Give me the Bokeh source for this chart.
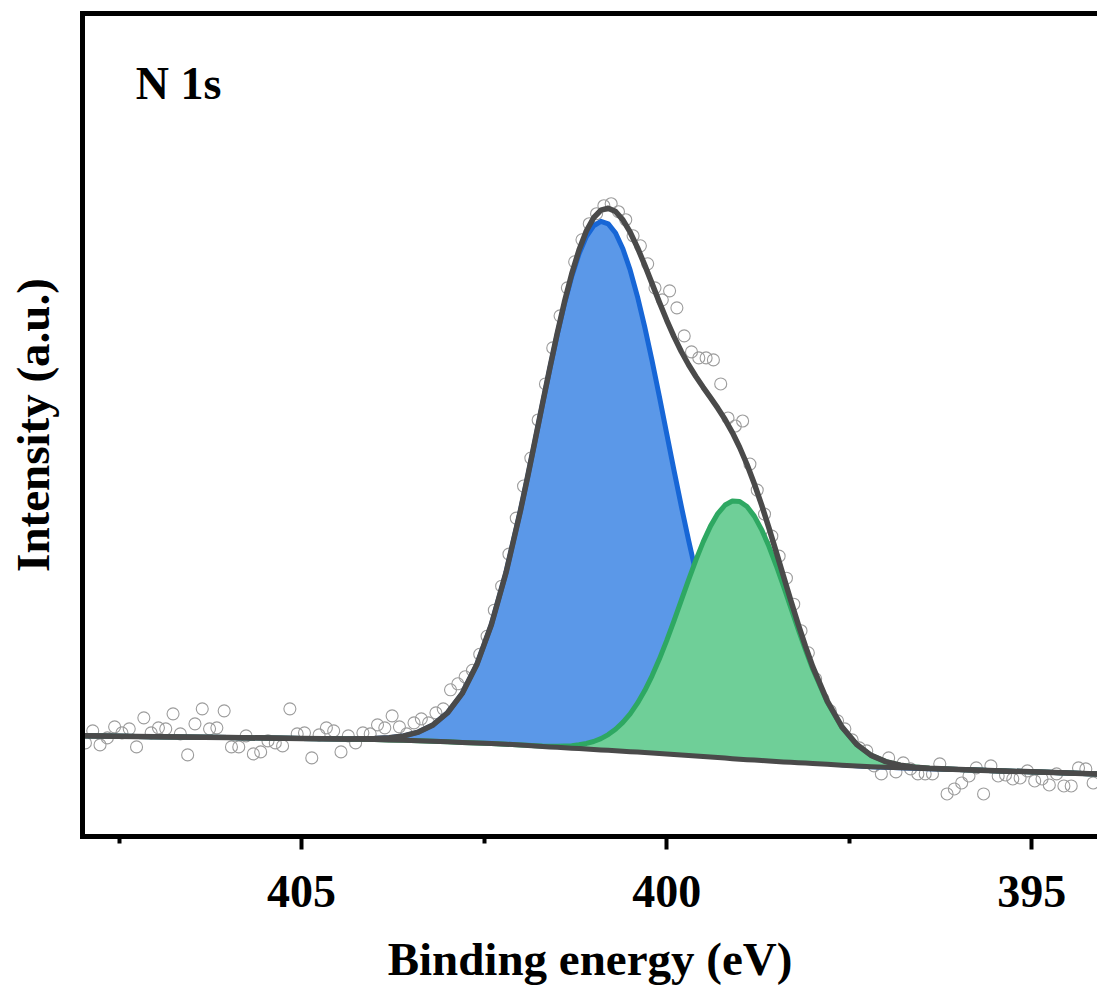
from bokeh.plotting import figure
from bokeh.models import Range1d, FixedTicker, LinearAxis, Label
from bokeh.embed import file_html
from bokeh.resources import INLINE
import numpy as np

# ---- measured points (binding energy in eV, intensity in a.u.) ----
scan_energy = [
    407.96, 407.86, 407.76, 407.66, 407.56, 407.46, 407.36, 407.26, 407.16, 407.06,
    406.96, 406.86, 406.76, 406.66, 406.56, 406.46, 406.36, 406.26, 406.16, 406.06,
    405.96, 405.86, 405.76, 405.66, 405.56, 405.46, 405.36, 405.26, 405.16, 405.06,
    404.96, 404.86, 404.76, 404.66, 404.56, 404.46, 404.36, 404.26, 404.16, 404.06,
    403.96, 403.86, 403.76, 403.66, 403.56, 403.46, 403.36, 403.26, 403.16, 403.06,
    402.96, 402.86, 402.76, 402.66, 402.56, 402.46, 402.36, 402.26, 402.16, 402.06,
    401.96, 401.86, 401.76, 401.66, 401.56, 401.46, 401.36, 401.26, 401.16, 401.06,
    400.96, 400.86, 400.76, 400.66, 400.56, 400.46, 400.36, 400.26, 400.16, 400.06,
    399.96, 399.86, 399.76, 399.66, 399.56, 399.46, 399.36, 399.26, 399.16, 399.06,
    398.96, 398.86, 398.76, 398.66, 398.56, 398.46, 398.36, 398.26, 398.16, 398.06,
    397.96, 397.86, 397.76, 397.66, 397.56, 397.46, 397.36, 397.26, 397.16, 397.06,
    396.96, 396.86, 396.76, 396.66, 396.56, 396.46, 396.36, 396.26, 396.16, 396.06,
    395.96, 395.86, 395.76, 395.66, 395.56, 395.46, 395.36, 395.26, 395.16, 395.06,
    394.96, 394.86, 394.76, 394.66, 394.56, 394.46, 394.36, 394.26, 394.16,
]
scan_counts = [
    93.5, 105.5, 91.5, 98.5, 109.5, 103.5, 107.5, 89.5, 118.5, 103.5,
    108.5, 107.5, 122.5, 102.5, 81.5, 112.5, 127.5, 107.5, 108.5, 125.5,
    89.5, 89.5, 100.5, 82.5, 84.5, 95.5, 93.5, 90.5, 127.5, 102.5,
    103.5, 78.5, 101.5, 108.5, 105.5, 84.5, 100.5, 93.5, 103.5, 102.5,
    111.5, 108.5, 120.5, 109.5, 102.5, 113.5, 117.5, 113.5, 123.5, 127.5,
    146.5, 152.5, 159.5, 166, 182, 200, 226, 250, 282, 318,
    350, 378, 416, 452, 488, 520, 548, 574, 596, 612,
    622, 630, 632, 624, 616, 600, 590, 572, 548, 536,
    545, 528, 500, 484, 478, 478, 476, 452, 418, 410,
    415, 372, 346, 322, 300, 280, 258, 232, 205.5, 183.5,
    157.5, 137.5, 125.5, 115.5, 107.5, 96.5, 88.5, 85.5, 70.5, 62.5,
    78.5, 64.5, 73.5, 67.5, 62.5, 62.5, 62.5, 72.5, 42.5, 47.5,
    53.5, 60.5, 68.5, 42.5, 70.5, 60.5, 61.5, 57.5, 58.5, 65.5,
    55.5, 57.5, 51.5, 62.5, 50.5, 50.5, 68.5, 67.5, 53.5,
]

# ---- fitted curves ----
fit_energy = [
    408.1, 407.0, 406.0, 405.0, 404.4, 404.0, 403.8, 403.6, 403.4, 403.2,
    403.0, 402.8, 402.6, 402.4, 402.2,
    402.0, 401.9, 401.8, 401.7, 401.6, 401.5, 401.4, 401.3, 401.2, 401.1,
    401.0, 400.9, 400.8, 400.7, 400.6, 400.5, 400.4, 400.3, 400.2, 400.1,
    400.0, 399.9, 399.8, 399.7, 399.6, 399.5, 399.4, 399.3, 399.2, 399.1,
    399.0, 398.9, 398.8, 398.7, 398.6, 398.5, 398.4, 398.3, 398.2, 398.1,
    398.0,
    397.8, 397.6, 397.4, 397.2, 397.0, 396.8, 396.6, 396.4, 396.0, 395.4,
    394.8, 394.0,
]
background = [
    100.6, 99.7, 98.8, 98.0, 97.3, 96.8, 96.5, 96.1, 95.6, 95.1,
    94.6, 94.0, 93.5, 92.9, 92.2,
    91.3, 90.85, 90.4, 89.95, 89.5, 89.1, 88.7, 88.25, 87.8, 87.35,
    86.9, 86.5, 86.1, 85.65, 85.2, 84.75, 84.3, 83.85, 83.4, 82.9,
    82.4, 81.9, 81.4, 80.9, 80.4, 79.85, 79.3, 78.8, 78.3, 77.75,
    77.2, 76.75, 76.3, 75.85, 75.4, 74.95, 74.5, 74.1, 73.7, 73.3,
    72.9,
    72.1, 71.2, 70.4, 69.7, 69.2, 68.7, 68.2, 67.7, 66.8, 65.5,
    64.1, 62.3,
]
peak_400_9 = [
    0, 0, 0, 0, 0.2, 1.0, 2.1, 4.4, 8.7, 16.3,
    29.0, 48.9, 78.2, 118.8, 171.4,
    234.9, 269.7, 305.7, 342.1, 377.8, 411.9, 443.4, 471.2, 494.2, 511.8,
    523.1, 527.9, 525.8, 517.1, 501.9, 481.0, 455.0, 424.9, 391.7, 356.5,
    320.2, 284.0, 248.6, 214.9, 183.3, 154.4, 128.4, 105.3, 85.3, 68.3,
    53.9, 42.0, 32.3, 24.6, 18.4, 13.6, 10.0, 7.2, 5.1, 3.6,
    2.5,
    1.2, 0.5, 0.2, 0, 0, 0, 0, 0, 0, 0,
    0, 0,
]
peak_399_0 = [
    0, 0, 0, 0, 0, 0, 0, 0, 0, 0,
    0, 0, 0, 0, 0,
    0.1, 0.2, 0.3, 0.4, 0.7, 1.1, 1.7, 2.5, 3.8, 5.6,
    8.0, 11.3, 15.7, 21.5, 28.8, 37.8, 48.9, 61.9, 77.1, 94.3,
    113.2, 133.4, 154.4, 175.4, 195.7, 214.4, 230.7, 243.7, 252.8, 257.4,
    257.4, 252.8, 243.7, 230.7, 214.4, 195.7, 175.4, 154.4, 133.4, 113.2,
    94.3,
    61.9, 37.8, 21.5, 11.3, 5.6, 2.5, 1.1, 0.4, 0, 0,
    0, 0,
]

x_ticks = [395, 400, 405]
x_minor_ticks = [392.5, 397.5, 402.5, 407.5]

bg = np.array(background)
blue_top = bg + np.array(peak_400_9)
green_top = bg + np.array(peak_399_0)
envelope = bg + np.array(peak_400_9) + np.array(peak_399_0)

FONT = "Liberation Serif"
GRAY = "#4a4a4a"

p = figure(width=1097, height=992,
           x_range=Range1d(408.0, 394.1), y_range=Range1d(0, 822),
           x_axis_type=None, y_axis_type=None,
           output_backend="svg", toolbar_location=None,
           min_border_left=82, min_border_right=0,
           min_border_top=13, min_border_bottom=156)
p.outline_line_color = None
p.background_fill_color = "white"
p.border_fill_color = "white"

xaxis = LinearAxis(ticker=FixedTicker(ticks=x_ticks, minor_ticks=x_minor_ticks),
                   axis_label="Binding energy (eV)")
xaxis.axis_line_width = 5
xaxis.axis_line_color = "black"
xaxis.axis_line_cap = "square"
xaxis.major_tick_out = 13
xaxis.major_tick_in = 0
xaxis.minor_tick_out = 7
xaxis.minor_tick_in = 0
xaxis.major_tick_line_width = 4
xaxis.minor_tick_line_width = 4
xaxis.major_tick_line_color = "black"
xaxis.minor_tick_line_color = "black"
xaxis.major_label_text_font = FONT
xaxis.major_label_text_font_style = "bold"
xaxis.major_label_text_font_size = "46px"
xaxis.major_label_text_color = "black"
xaxis.major_label_standoff = 26
xaxis.axis_label_text_font = FONT
xaxis.axis_label_text_font_style = "bold"
xaxis.axis_label_text_font_size = "47px"
xaxis.axis_label_text_color = "black"
xaxis.axis_label_standoff = 23
p.add_layout(xaxis, "below")

yaxis = LinearAxis(ticker=FixedTicker(ticks=[]), axis_label="Intensity (a.u.)")
yaxis.axis_line_width = 5
yaxis.axis_line_color = "black"
yaxis.axis_line_cap = "square"
yaxis.major_tick_line_color = None
yaxis.minor_tick_line_color = None
yaxis.major_label_standoff = 0
yaxis.axis_label_text_font = FONT
yaxis.axis_label_text_font_style = "bold"
yaxis.axis_label_text_font_size = "47px"
yaxis.axis_label_text_color = "black"
yaxis.axis_label_standoff = 24
p.add_layout(yaxis, "left")

topaxis = LinearAxis(ticker=FixedTicker(ticks=[]))
topaxis.axis_line_width = 5
topaxis.axis_line_color = "black"
topaxis.axis_line_cap = "square"
topaxis.major_tick_line_color = None
topaxis.minor_tick_line_color = None
topaxis.major_label_standoff = 0
topaxis.axis_label_standoff = 0
p.add_layout(topaxis, "above")

p.scatter(scan_energy, scan_counts, marker="circle", size=12,
          fill_color=None, line_color="#9c9c9c", line_width=1.1)

p.varea(x=fit_energy, y1=background, y2=blue_top, fill_color="#5b98e8")
p.line(fit_energy, blue_top, line_color="#1766d6", line_width=5, line_join="round")
p.varea(x=fit_energy, y1=background, y2=green_top, fill_color="#6fcf98")
p.line(fit_energy, green_top, line_color="#2ea862", line_width=5, line_join="round")
p.line(fit_energy, background, line_color=GRAY, line_width=5, line_join="round")
p.line(fit_energy, envelope, line_color=GRAY, line_width=5.5, line_join="round")

p.add_layout(Label(x=407.27, y=752.5, text="N 1s", text_font=FONT,
                   text_font_style="bold", text_font_size="46px",
                   text_color="black", text_baseline="alphabetic"))

open("out.html", "w").write(file_html(p, INLINE))
